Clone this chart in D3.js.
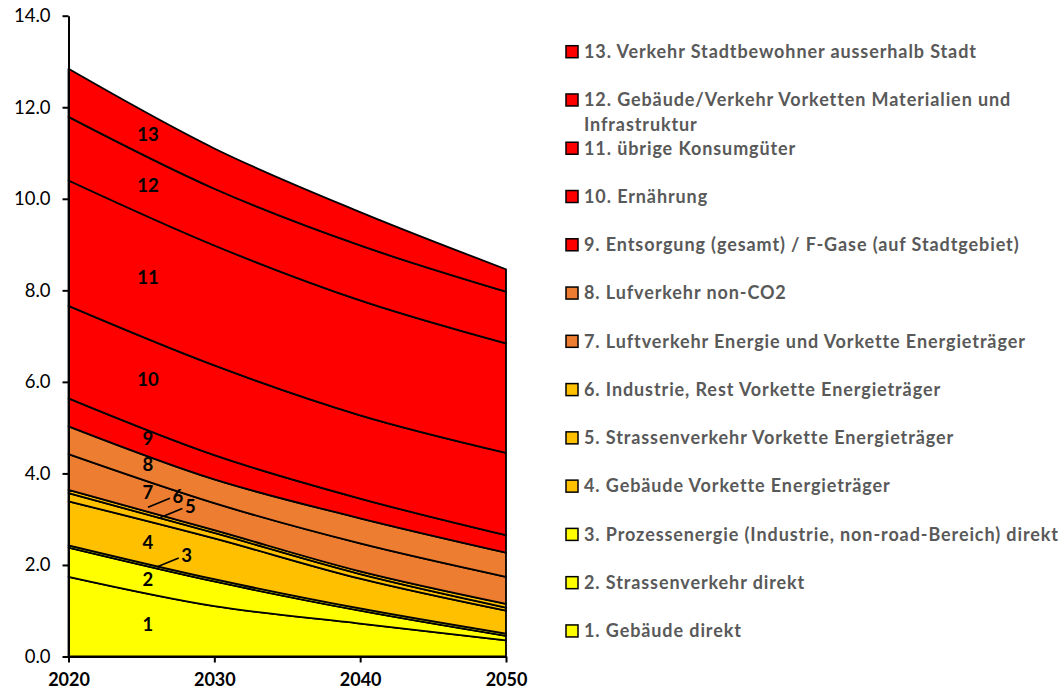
<!DOCTYPE html>
<html><head><meta charset="utf-8">
<script src="https://cdn.jsdelivr.net/npm/d3@7"></script>
<style>body{margin:0;background:#fff} svg{display:block}</style>
</head><body>
<svg id="chart" width="1062" height="691"></svg>
<script>
// ---- data ----
const years = [2020, 2030, 2040, 2050];
const yTicks = [0, 2, 4, 6, 8, 10, 12, 14];
const categories = [
  "1. Gebäude direkt",
  "2. Strassenverkehr direkt",
  "3. Prozessenergie (Industrie, non-road-Bereich) direkt",
  "4. Gebäude Vorkette Energieträger",
  "5. Strassenverkehr Vorkette Energieträger",
  "6. Industrie, Rest Vorkette Energieträger",
  "7. Luftverkehr Energie und Vorkette Energieträger",
  "8. Lufverkehr non-CO2",
  "9. Entsorgung (gesamt) / F-Gase (auf Stadtgebiet)",
  "10. Ernährung",
  "11. übrige Konsumgüter",
  "12. Gebäude/Verkehr Vorketten Materialien und Infrastruktur",
  "13. Verkehr Stadtbewohner ausserhalb Stadt"
];
const shortLabels = ["1","2","3","4","5","6","7","8","9","10","11","12","13"];
const s1  = [1.74, 1.10, 0.72, 0.35];
const s2  = [0.64, 0.54, 0.28, 0.10];
const s3  = [0.05, 0.05, 0.05, 0.05];
const s4  = [0.96, 0.89, 0.65, 0.50];
const s5  = [0.18, 0.12, 0.10, 0.07];
const s6  = [0.07, 0.06, 0.06, 0.08];
const s7  = [0.78, 0.59, 0.61, 0.59];
const s8  = [0.61, 0.52, 0.55, 0.53];
const s9  = [0.61, 0.53, 0.43, 0.38];
const s10 = [2.02, 1.96, 1.82, 1.80];
const s11 = [2.74, 2.62, 2.51, 2.39];
const s12 = [1.39, 1.24, 1.20, 1.13];
const s13 = [1.05, 0.88, 0.73, 0.49];
const seriesValues = [s1,s2,s3,s4,s5,s6,s7,s8,s9,s10,s11,s12,s13];
const colors = ["#FFFF00","#FFFF00","#FFFF00","#FFC000","#FFC000","#FFC000",
                "#ED7D31","#ED7D31","#FF0000","#FF0000","#FF0000","#FF0000","#FF0000"];

// ---- layout ----
const svg = d3.select("#chart");
const x = d3.scaleLinear().domain([2020, 2050]).range([68.5, 506]);
const y = d3.scaleLinear().domain([0, 14]).range([656.5, 15.7]);

const keys = seriesValues.map((_, i) => "s" + (i + 1));
const rows = years.map((yr, j) => {
  const r = { year: yr };
  seriesValues.forEach((s, i) => r[keys[i]] = s[j]);
  return r;
});
const stacked = d3.stack().keys(keys)(rows);

const area = d3.area()
  .x(d => x(d.data.year))
  .y0(d => y(d[0]))
  .y1(d => y(d[1]))
  .curve(d3.curveMonotoneX);

svg.append("g").selectAll("path")
  .data(stacked)
  .join("path")
  .attr("d", area)
  .attr("fill", (d, i) => colors[i])
  .attr("stroke", "#000")
  .attr("stroke-width", 1.8)
  .attr("stroke-linejoin", "round");

// ---- axes ----
const yAxis = svg.append("g")
  .attr("transform", `translate(${x(2020)},0)`)
  .call(d3.axisLeft(y).tickValues(yTicks).tickFormat(d3.format(".1f"))
        .tickSize(6).tickSizeOuter(0).tickPadding(12));
yAxis.selectAll("text").attr("font-family", "Lato, 'Open Sans', sans-serif")
  .attr("font-size", 18.5).attr("fill", "#000");

const xAxis = svg.append("g")
  .attr("transform", `translate(0,${y(0)})`)
  .call(d3.axisBottom(x).tickValues(years).tickFormat(d3.format("d"))
        .tickSize(6).tickSizeOuter(0).tickPadding(11));
xAxis.selectAll("text").attr("font-family", "Lato, 'Open Sans', sans-serif")
  .attr("font-size", 18).attr("font-weight", "bold").attr("fill", "#000");
svg.selectAll(".domain, .tick line").attr("stroke", "#000").attr("stroke-width", 2);

// ---- in-chart labels ----
function layerMid(i, yr) {
  const t = (yr - 2020) / 10;
  const lo = stacked[i][0], hi = stacked[i][1];
  const b = lo[0] + (hi[0] - lo[0]) * t;
  const tp = lo[1] + (hi[1] - lo[1]) * t;
  return (b + tp) / 2;
}
const labelYear = 2025.45;
const leaderLayers = { 2: { yr: 2026.05, sy: 0 }, 4: { yr: 2026.3, sy: -4 }, 5: { yr: 2025.45, sy: -6 } };
const lbl = svg.append("g").attr("font-family", "Lato, 'Open Sans', sans-serif")
  .attr("font-size", 18.5).attr("font-weight", "bold").attr("fill", "#000");
stacked.forEach((s, i) => {
  if (leaderLayers[i]) {
    const L = leaderLayers[i];
    const px = x(L.yr), py = y(layerMid(i, L.yr)) + L.sy;
    svg.append("line").attr("x1", px).attr("y1", py).attr("x2", px + 22).attr("y2", py - 9)
      .attr("stroke", "#000").attr("stroke-width", 1.6);
    lbl.append("text").attr("x", px + 30).attr("y", py - 11).attr("dy", "0.35em")
      .attr("text-anchor", "middle").text(shortLabels[i]);
  } else {
    const off = i >= 6 && i <= 9 ? -4 : 0;
    lbl.append("text").attr("x", x(labelYear)).attr("y", y(layerMid(i, labelYear)) + off)
      .attr("dy", "0.35em").attr("text-anchor", "middle").text(shortLabels[i]);
  }
});

// ---- legend ----
const leg = svg.append("g").attr("font-family", "Lato, 'Open Sans', sans-serif")
  .attr("font-size", 18).attr("font-weight", "bold").attr("fill", "#595959")
  .attr("letter-spacing", "0.9px");
const legTop = 51.7, legStep = 48.27;
const order = d3.range(12, -1, -1);
order.forEach((i, k) => {
  const cy = legTop + k * legStep;
  leg.append("rect").attr("x", 566).attr("y", cy - 6).attr("width", 12).attr("height", 12)
    .attr("fill", colors[i]).attr("stroke", "#000").attr("stroke-width", 1.5);
  const t = leg.append("text").attr("x", 584).attr("y", cy).attr("dy", "0.35em");
  const name = categories[i];
  if (i === 11) {
    t.append("tspan").text("12. Gebäude/Verkehr Vorketten Materialien und");
    t.append("tspan").attr("x", 584).attr("dy", 25).text("Infrastruktur");
  } else {
    t.text(name);
  }
});
</script>
</body></html>
